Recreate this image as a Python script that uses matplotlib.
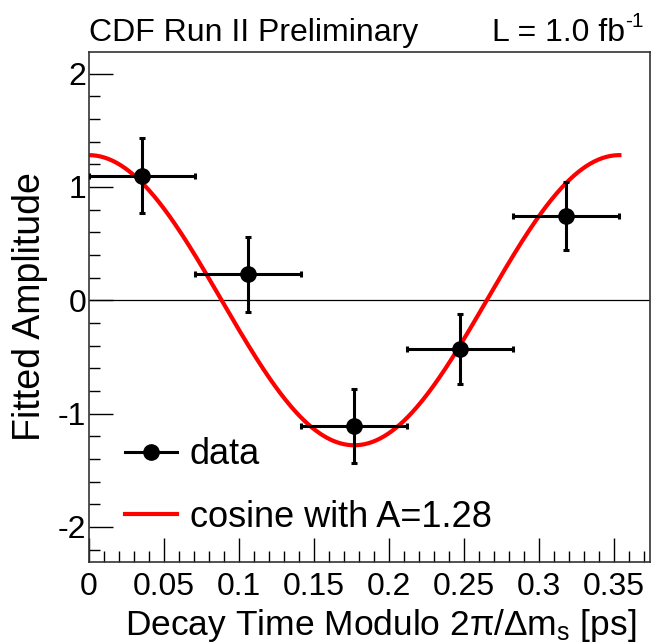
import numpy as np
import matplotlib
matplotlib.use("Agg")
import matplotlib.pyplot as plt
from matplotlib.ticker import MultipleLocator, FuncFormatter
from matplotlib.lines import Line2D

# Data
bin_centers = [0.0354, 0.1061, 0.1768, 0.2475, 0.3182]
bin_halfwidth = [0.0354, 0.0354, 0.0354, 0.0354, 0.0354]
amplitude = [1.10, 0.23, -1.11, -0.43, 0.74]
amp_err = [0.33, 0.33, 0.33, 0.31, 0.30]

fit_A = 1.28
delta_ms = 17.77  # ps^-1

plt.rcParams['font.family'] = ['Liberation Sans', 'DejaVu Sans']
plt.rcParams['mathtext.fontset'] = 'custom'
plt.rcParams['mathtext.rm'] = 'Liberation Sans'
plt.rcParams['mathtext.it'] = 'Liberation Sans'

fig = plt.figure(figsize=(6.54, 6.44), dpi=100)
ax = fig.add_axes([89/654, 1-562/644, (650-89)/654, (562-52)/644])

period = 2*np.pi/delta_ms
xc = np.linspace(0, period, 400)
ax.plot(xc, fit_A*np.cos(2*np.pi*xc/period), color='#ff0000', lw=3.0, zorder=2)
ax.axhline(0, color='black', lw=0.9, zorder=1)
ax.errorbar(bin_centers, amplitude, xerr=bin_halfwidth, yerr=amp_err,
            fmt='o', color='black', ms=11, lw=2.2, capsize=2.5, capthick=2.2,
            zorder=3)

ax.set_xlim(0, 0.374)
ax.set_ylim(-2.31, 2.19)
ax.xaxis.set_major_locator(MultipleLocator(0.05))
ax.xaxis.set_minor_locator(MultipleLocator(0.01))
ax.yaxis.set_major_locator(MultipleLocator(1))
ax.yaxis.set_minor_locator(MultipleLocator(0.2))
ax.xaxis.set_major_formatter(FuncFormatter(lambda v, p: '%g' % round(v, 3)))
ax.yaxis.set_major_formatter(FuncFormatter(lambda v, p: '%g' % round(v, 3)))
ax.tick_params(which='both', direction='in', top=False, right=False, width=1.0,
               labelsize=23, colors='black')
ax.tick_params(which='major', length=17, pad=7)
ax.tick_params(which='minor', length=8)
ax.tick_params(axis='y', which='major', pad=2)
for s in ax.spines.values():
    s.set_linewidth(1.2)
    s.set_color('#333333')

ax.set_xlabel(r'Decay Time Modulo 2$\pi$/$\Delta$m$_{\rm s}$ [ps]', fontsize=25.5, labelpad=4)
ax.xaxis.label.set_x((381-89)/561)
ax.set_ylabel('Fitted Amplitude', fontsize=27, labelpad=7)

fig.text(89/654, 1-41/644, 'CDF Run II Preliminary', fontsize=23, ha='left', va='baseline')
fig.text(625/654, 1-41/644, 'L = 1.0 fb', fontsize=23, ha='right', va='baseline')
fig.text(625/654, 1-27/644, '-1', fontsize=15, ha='left', va='baseline')

handles = [Line2D([], [], color='black', marker='o', ms=11, lw=2.2),
           Line2D([], [], color='#ff0000', lw=3.0)]
labels = ['data', 'cosine with A=%.2f' % fit_A]
leg = ax.legend(handles, labels, loc='lower left', bbox_to_anchor=(0.064, 0.053),
                frameon=False, fontsize=26, handlelength=1.45, handletextpad=0.35,
                labelspacing=0.77, borderaxespad=0, borderpad=0)

fig.savefig('out.png', dpi=100)
